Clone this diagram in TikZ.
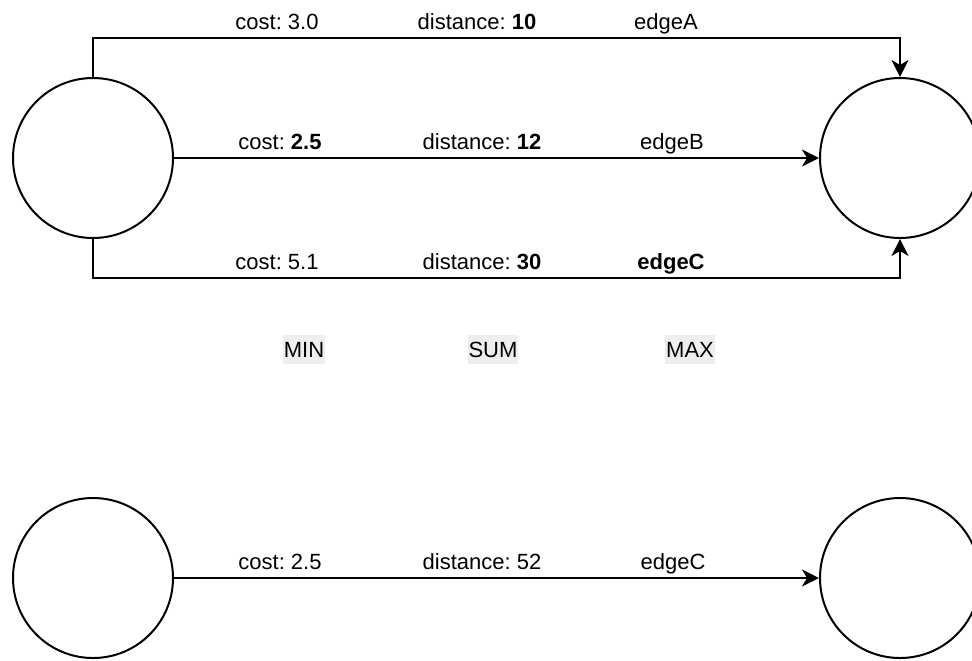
\documentclass[tikz,border=0pt]{standalone}
\usepackage{fontspec}
\setmainfont{Liberation Sans}
\usetikzlibrary{positioning,arrows.meta}
\definecolor{aggbg}{HTML}{EEEEEE}
\frenchspacing

\begin{document}
\begin{tikzpicture}[x=0.5pt,y=-0.5pt,line width=1pt,
    >={Stealth[length=8.5pt,width=8.5pt,inset=2.5pt]},
    vertex/.style={draw,circle,minimum size=80pt,inner sep=0pt},
    lbl/.style={font=\fontsize{11}{13}\selectfont,anchor=base,inner sep=0pt},
    agg/.style={lbl,fill=aggbg,inner xsep=0.5pt,inner ysep=0.5pt,text height=10.5pt,text depth=3pt}]
        \useasboundingbox (0,0) rectangle (972,660);
        % upper graph: three parallel edges
        \node[vertex] (src) at (93,158) {};
        \node[vertex] (dst) at (900,158) {};
        \coordinate (topy) at (0,38);
        \coordinate (boty) at (0,278);
        \draw[->] (src.north) |- (topy -| dst.north) -- (dst.north);
        \draw[->] (src) -- (dst);
        \draw[->] (src.south) |- (boty -| dst.south) -- (dst.south);
        \node[lbl] (costA) at (277,29) {cost: 3.0};
        \node[lbl] (distA) at (477,29) {distance: \textbf{10}};
        \node[lbl] (nameA) at (666,29) {edgeA};
        \node[lbl] (costB) at (280,149) {cost: \textbf{2.5}};
        \node[lbl] (distB) at (482,149) {distance: \textbf{12}};
        \node[lbl] (nameB) at (672,149) {edgeB};
        \node[lbl] (costC) at (277,269) {cost: 5.1};
        \node[lbl] (distC) at (482,269) {distance: \textbf{30}};
        \node[lbl] (nameC) at (671,269) {\textbf{edgeC}};
        % aggregation per attribute
        \node[agg] (aggmin) at (304,357) {MIN};
        \node[agg] (aggsum) at (493,357) {SUM};
        \node[agg] (aggmax) at (690,357) {MAX};
        % lower graph: merged edge
        \node[vertex] (src2) at (93,578) {};
        \node[vertex] (dst2) at (900,578) {};
        \draw[->] (src2) -- (dst2);
        \node[lbl] (cost2) at (280,569) {cost: 2.5};
        \node[lbl] (dist2) at (482,569) {distance: 52};
        \node[lbl] (name2) at (673,569) {edgeC};
    \end{tikzpicture}
\end{document}
